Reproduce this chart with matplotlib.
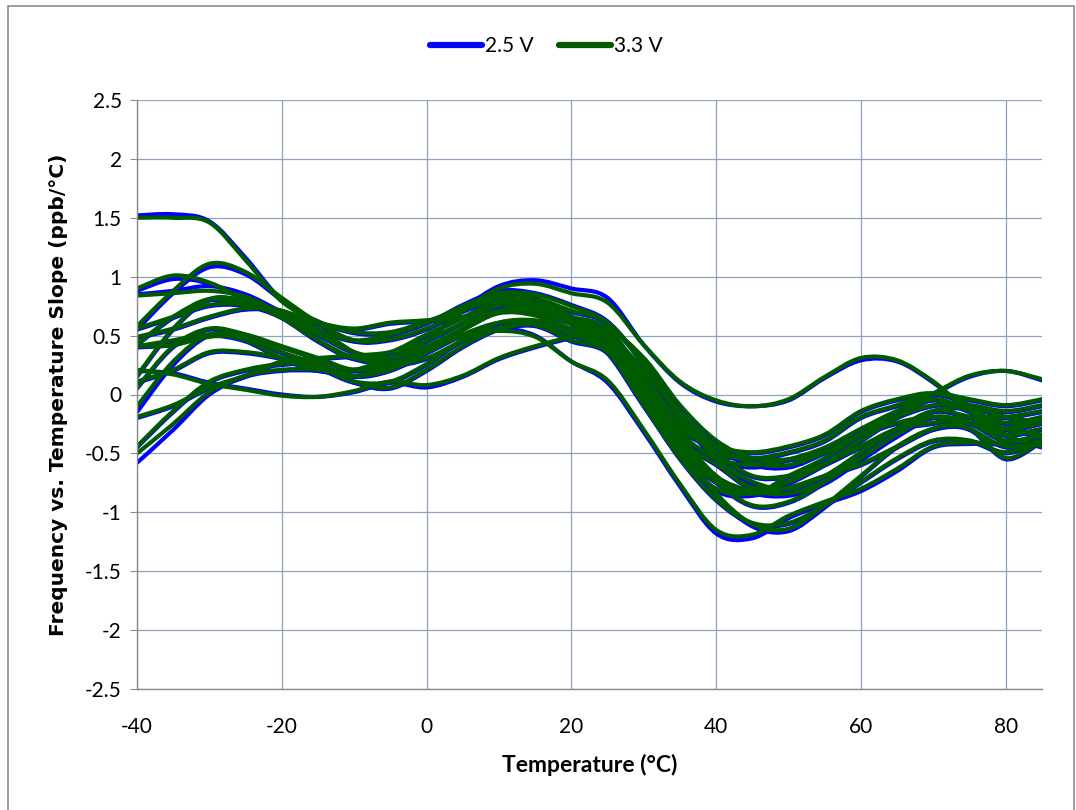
import matplotlib
matplotlib.use("Agg")
import matplotlib.pyplot as plt
from matplotlib.lines import Line2D
from matplotlib.patches import Rectangle, PathPatch
from matplotlib.path import Path

plt.rcParams["font.family"] = ["Lato", "DejaVu Sans"]

# temperature points (°C)
temps = [-40, -35, -30, -25, -20, -15, -10, -5, 0, 5, 10, 15, 20,
         25, 30, 35, 40, 45, 50, 55, 60, 65, 70, 75, 80, 85]

# slope curves, 2.5 V supply (ppb/°C)
slopes_25v = [
    [1.52, 1.53, 1.47, 1.16, 0.80, 0.62, 0.52, 0.52, 0.62, 0.73, 0.86, 0.82, 0.66, 0.46, 0.00, -0.35, -0.56, -0.62, -0.56, -0.46, -0.30, -0.15, -0.05, -0.15, -0.25, -0.20],
    [0.55, 0.86, 1.08, 1.02, 0.80, 0.60, 0.45, 0.46, 0.55, 0.70, 0.80, 0.76, 0.60, 0.35, -0.10, -0.52, -0.82, -0.86, -0.76, -0.60, -0.45, -0.30, -0.20, -0.25, -0.35, -0.30],
    [0.88, 0.98, 0.94, 0.80, 0.65, 0.45, 0.30, 0.26, 0.36, 0.55, 0.70, 0.70, 0.60, 0.50, 0.20, -0.20, -0.56, -0.76, -0.82, -0.70, -0.50, -0.30, -0.15, -0.20, -0.30, -0.20],
    [0.85, 0.88, 0.92, 0.85, 0.70, 0.55, 0.45, 0.50, 0.60, 0.76, 0.88, 0.86, 0.76, 0.62, 0.26, -0.16, -0.46, -0.60, -0.62, -0.50, -0.35, -0.20, -0.10, -0.10, -0.15, -0.10],
    [0.40, 0.42, 0.50, 0.50, 0.40, 0.30, 0.20, 0.30, 0.46, 0.72, 0.92, 0.97, 0.90, 0.82, 0.42, 0.10, -0.06, -0.10, -0.05, 0.14, 0.29, 0.28, 0.10, -0.15, -0.30, -0.35],
    [-0.58, -0.30, 0.00, 0.15, 0.20, 0.20, 0.15, 0.23, 0.38, 0.50, 0.56, 0.50, 0.28, 0.10, -0.32, -0.78, -1.18, -1.22, -1.05, -0.93, -0.82, -0.65, -0.45, -0.42, -0.42, -0.36],
    [0.40, 0.45, 0.50, 0.45, 0.30, 0.20, 0.20, 0.30, 0.45, 0.60, 0.72, 0.70, 0.60, 0.50, 0.05, -0.45, -0.86, -1.12, -1.16, -0.96, -0.70, -0.45, -0.30, -0.30, -0.55, -0.40],
    [0.55, 0.65, 0.75, 0.75, 0.65, 0.45, 0.30, 0.35, 0.50, 0.65, 0.80, 0.78, 0.65, 0.50, 0.10, -0.35, -0.70, -0.85, -0.70, -0.55, -0.35, -0.15, 0.00, 0.15, 0.20, 0.12],
    [0.20, 0.18, 0.10, 0.05, 0.00, -0.02, 0.02, 0.10, 0.06, 0.15, 0.30, 0.40, 0.48, 0.55, 0.30, -0.10, -0.40, -0.55, -0.56, -0.50, -0.35, -0.25, -0.20, -0.30, -0.45, -0.40],
    [-0.45, -0.15, 0.10, 0.20, 0.25, 0.25, 0.10, 0.05, 0.20, 0.40, 0.55, 0.60, 0.50, 0.35, -0.10, -0.55, -0.90, -1.10, -1.10, -0.95, -0.75, -0.55, -0.40, -0.40, -0.50, -0.40],
    [-0.20, -0.10, 0.05, 0.15, 0.27, 0.30, 0.32, 0.35, 0.45, 0.60, 0.75, 0.72, 0.60, 0.45, 0.05, -0.40, -0.75, -0.95, -0.92, -0.75, -0.50, -0.30, -0.15, -0.12, -0.20, -0.25],
    [-0.15, 0.25, 0.50, 0.48, 0.35, 0.25, 0.15, 0.20, 0.35, 0.55, 0.70, 0.68, 0.55, 0.40, -0.05, -0.45, -0.72, -0.84, -0.86, -0.76, -0.56, -0.36, -0.20, -0.25, -0.40, -0.35],
    [0.05, 0.40, 0.55, 0.50, 0.40, 0.30, 0.20, 0.25, 0.35, 0.50, 0.60, 0.60, 0.50, 0.40, 0.00, -0.40, -0.60, -0.80, -0.75, -0.60, -0.40, -0.20, -0.05, -0.15, -0.30, -0.25],
    [0.15, 0.55, 0.80, 0.78, 0.65, 0.50, 0.35, 0.30, 0.40, 0.55, 0.70, 0.75, 0.65, 0.55, 0.15, -0.25, -0.50, -0.55, -0.50, -0.40, -0.20, -0.10, 0.00, -0.05, -0.10, -0.05],
    [0.42, 0.65, 0.80, 0.75, 0.70, 0.60, 0.55, 0.60, 0.62, 0.65, 0.75, 0.80, 0.70, 0.60, 0.25, -0.20, -0.50, -0.70, -0.70, -0.60, -0.45, -0.30, -0.25, -0.20, -0.20, -0.15],
    [0.48, 0.55, 0.65, 0.72, 0.70, 0.55, 0.35, 0.25, 0.30, 0.45, 0.60, 0.62, 0.55, 0.45, 0.10, -0.30, -0.45, -0.50, -0.45, -0.35, -0.15, -0.05, 0.00, -0.10, -0.35, -0.45],
    [0.10, 0.20, 0.35, 0.35, 0.30, 0.22, 0.10, 0.10, 0.25, 0.45, 0.55, 0.58, 0.45, 0.35, -0.05, -0.50, -0.75, -0.85, -0.80, -0.70, -0.60, -0.45, -0.30, -0.25, -0.30, -0.20],
]

# slope curves, 3.3 V supply (ppb/°C)
slopes_33v = [
    [1.50, 1.50, 1.46, 1.14, 0.79, 0.62, 0.53, 0.53, 0.62, 0.72, 0.84, 0.81, 0.66, 0.47, 0.02, -0.33, -0.54, -0.60, -0.55, -0.45, -0.29, -0.14, -0.04, -0.14, -0.24, -0.19],
    [0.58, 0.88, 1.11, 1.04, 0.82, 0.61, 0.46, 0.47, 0.56, 0.71, 0.81, 0.77, 0.61, 0.37, -0.08, -0.50, -0.80, -0.84, -0.74, -0.59, -0.44, -0.29, -0.19, -0.24, -0.34, -0.29],
    [0.90, 1.01, 0.95, 0.80, 0.65, 0.46, 0.31, 0.27, 0.37, 0.55, 0.70, 0.71, 0.61, 0.51, 0.21, -0.18, -0.54, -0.74, -0.80, -0.69, -0.49, -0.29, -0.14, -0.19, -0.29, -0.19],
    [0.84, 0.86, 0.88, 0.83, 0.69, 0.55, 0.46, 0.51, 0.61, 0.75, 0.86, 0.85, 0.75, 0.61, 0.26, -0.15, -0.44, -0.58, -0.60, -0.49, -0.34, -0.19, -0.09, -0.09, -0.14, -0.09],
    [0.41, 0.42, 0.49, 0.49, 0.40, 0.30, 0.21, 0.31, 0.46, 0.71, 0.90, 0.94, 0.86, 0.78, 0.42, 0.11, -0.05, -0.10, -0.04, 0.15, 0.31, 0.29, 0.11, -0.14, -0.29, -0.34],
    [-0.50, -0.25, 0.02, 0.16, 0.21, 0.21, 0.16, 0.24, 0.38, 0.49, 0.54, 0.49, 0.28, 0.12, -0.30, -0.76, -1.15, -1.19, -1.03, -0.91, -0.80, -0.63, -0.44, -0.41, -0.41, -0.35],
    [0.41, 0.46, 0.51, 0.46, 0.31, 0.21, 0.21, 0.31, 0.46, 0.60, 0.71, 0.70, 0.60, 0.50, 0.06, -0.44, -0.84, -1.10, -1.14, -0.94, -0.69, -0.44, -0.29, -0.29, -0.54, -0.39],
    [0.56, 0.66, 0.76, 0.76, 0.66, 0.46, 0.31, 0.36, 0.51, 0.65, 0.79, 0.77, 0.65, 0.51, 0.11, -0.34, -0.69, -0.84, -0.69, -0.54, -0.34, -0.14, 0.01, 0.16, 0.20, 0.13],
    [0.21, 0.17, 0.09, 0.04, -0.01, -0.02, 0.03, 0.11, 0.08, 0.16, 0.31, 0.41, 0.49, 0.55, 0.31, -0.09, -0.39, -0.54, -0.55, -0.49, -0.34, -0.24, -0.19, -0.29, -0.44, -0.39],
    [-0.44, -0.14, 0.11, 0.21, 0.26, 0.26, 0.11, 0.06, 0.21, 0.41, 0.56, 0.61, 0.51, 0.36, -0.09, -0.54, -0.89, -1.09, -1.09, -0.94, -0.74, -0.54, -0.39, -0.39, -0.49, -0.39],
    [-0.19, -0.09, 0.06, 0.16, 0.28, 0.31, 0.33, 0.36, 0.46, 0.61, 0.76, 0.73, 0.61, 0.46, 0.06, -0.39, -0.74, -0.94, -0.91, -0.74, -0.49, -0.29, -0.14, -0.11, -0.19, -0.24],
    [-0.10, 0.28, 0.51, 0.49, 0.36, 0.26, 0.16, 0.21, 0.36, 0.55, 0.69, 0.67, 0.55, 0.41, -0.04, -0.44, -0.70, -0.82, -0.84, -0.74, -0.54, -0.34, -0.19, -0.24, -0.39, -0.34],
    [0.06, 0.41, 0.56, 0.51, 0.41, 0.31, 0.21, 0.26, 0.36, 0.51, 0.61, 0.61, 0.51, 0.41, 0.01, -0.39, -0.59, -0.79, -0.74, -0.59, -0.39, -0.19, -0.04, -0.14, -0.29, -0.24],
    [0.16, 0.56, 0.81, 0.79, 0.66, 0.51, 0.36, 0.31, 0.41, 0.56, 0.71, 0.76, 0.66, 0.56, 0.16, -0.24, -0.49, -0.54, -0.49, -0.39, -0.19, -0.09, 0.01, -0.04, -0.09, -0.04],
    [0.43, 0.66, 0.81, 0.76, 0.71, 0.61, 0.56, 0.61, 0.63, 0.66, 0.76, 0.81, 0.71, 0.61, 0.26, -0.19, -0.49, -0.69, -0.69, -0.59, -0.44, -0.29, -0.24, -0.19, -0.19, -0.14],
    [0.49, 0.56, 0.66, 0.73, 0.71, 0.56, 0.36, 0.26, 0.31, 0.46, 0.61, 0.63, 0.56, 0.46, 0.11, -0.29, -0.44, -0.49, -0.44, -0.34, -0.14, -0.04, 0.01, -0.09, -0.34, -0.44],
    [0.11, 0.21, 0.36, 0.36, 0.31, 0.23, 0.11, 0.11, 0.26, 0.46, 0.56, 0.59, 0.46, 0.36, -0.04, -0.49, -0.74, -0.84, -0.79, -0.69, -0.59, -0.44, -0.29, -0.24, -0.29, -0.19],
]

x_ticks = [-40, -20, 0, 20, 40, 60, 80]
y_ticks = [2.5, 2, 1.5, 1, 0.5, 0, -0.5, -1, -1.5, -2, -2.5]
y_labels = ["2.5", "2", "1.5", "1", "0.5", "0", "-0.5", "-1", "-1.5", "-2", "-2.5"]

BLUE = "#0000FF"
GREEN = "#005A00"
GRID = "#8FA2BE"


def smooth_path(xs, ys):
    # Excel-style smoothed line: cubic Bezier segments through the data points
    verts = [(xs[0], ys[0])]
    codes = [Path.MOVETO]
    n = len(xs)
    for i in range(n - 1):
        a = max(i - 1, 0)
        b = min(i + 2, n - 1)
        c1 = (xs[i] + (xs[i + 1] - xs[a]) / 6, ys[i] + (ys[i + 1] - ys[a]) / 6)
        c2 = (xs[i + 1] - (xs[b] - xs[i]) / 6, ys[i + 1] - (ys[b] - ys[i]) / 6)
        verts += [c1, c2, (xs[i + 1], ys[i + 1])]
        codes += [Path.CURVE4] * 3
    return Path(verts, codes)


fig = plt.figure(figsize=(10.76, 8.10), dpi=100)
ax = fig.add_axes([137 / 1076, 1 - 689 / 810, (1042 - 137) / 1076, (689 - 100) / 810])

for ys in slopes_25v:
    ax.add_patch(PathPatch(smooth_path(temps, ys), fill=False, edgecolor=BLUE, lw=3.0,
                           capstyle="round", joinstyle="round"))
for ys in slopes_33v:
    ax.add_patch(PathPatch(smooth_path(temps, ys), fill=False, edgecolor=GREEN, lw=3.0,
                           capstyle="round", joinstyle="round"))

ax.set_xlim(-40, 85)
ax.set_ylim(-2.5, 2.5)
ax.set_xticks(x_ticks)
ax.set_xticklabels([str(t) for t in x_ticks])
ax.set_yticks(y_ticks)
ax.set_yticklabels(y_labels)
ax.grid(True, color=GRID, lw=0.9)
ax.set_axisbelow(True)

for side in ["top", "right"]:
    ax.spines[side].set_visible(False)
for side in ["left", "bottom"]:
    ax.spines[side].set_color("#8C8C8C")
    ax.spines[side].set_linewidth(1.0)

ax.tick_params(axis="y", direction="out", length=5, color="#8C8C8C", labelsize=15, pad=6)
ax.tick_params(axis="x", direction="out", length=0, labelsize=15, pad=20)

ax.set_xlabel("Temperature (°C)", fontsize=16.5, fontweight="bold", labelpad=12)
ax.set_ylabel("Frequency vs. Temperature Slope (ppb/°C)", fontsize=14.5, fontweight="bold",
              family=["DejaVu Sans"], labelpad=12)

handles = [Line2D([0], [0], color=BLUE, lw=4.5, solid_capstyle="round"),
           Line2D([0], [0], color=GREEN, lw=4.5, solid_capstyle="round")]
fig.legend(handles, ["2.5 V", "3.3 V"], loc="center", bbox_to_anchor=(0.508, 0.943),
           ncol=2, frameon=False, fontsize=15, handlelength=2.5, handletextpad=0.15,
           columnspacing=1.2)

# outer chart border (bottom edge falls outside the picture)
fig.patches.append(Rectangle((8 / 1076, -0.02), (1074 - 8) / 1076, 1.02 - 6 / 810,
                             transform=fig.transFigure, fill=False, edgecolor="#8C8C8C", lw=1.2))

fig.savefig("out.png", dpi=100)
